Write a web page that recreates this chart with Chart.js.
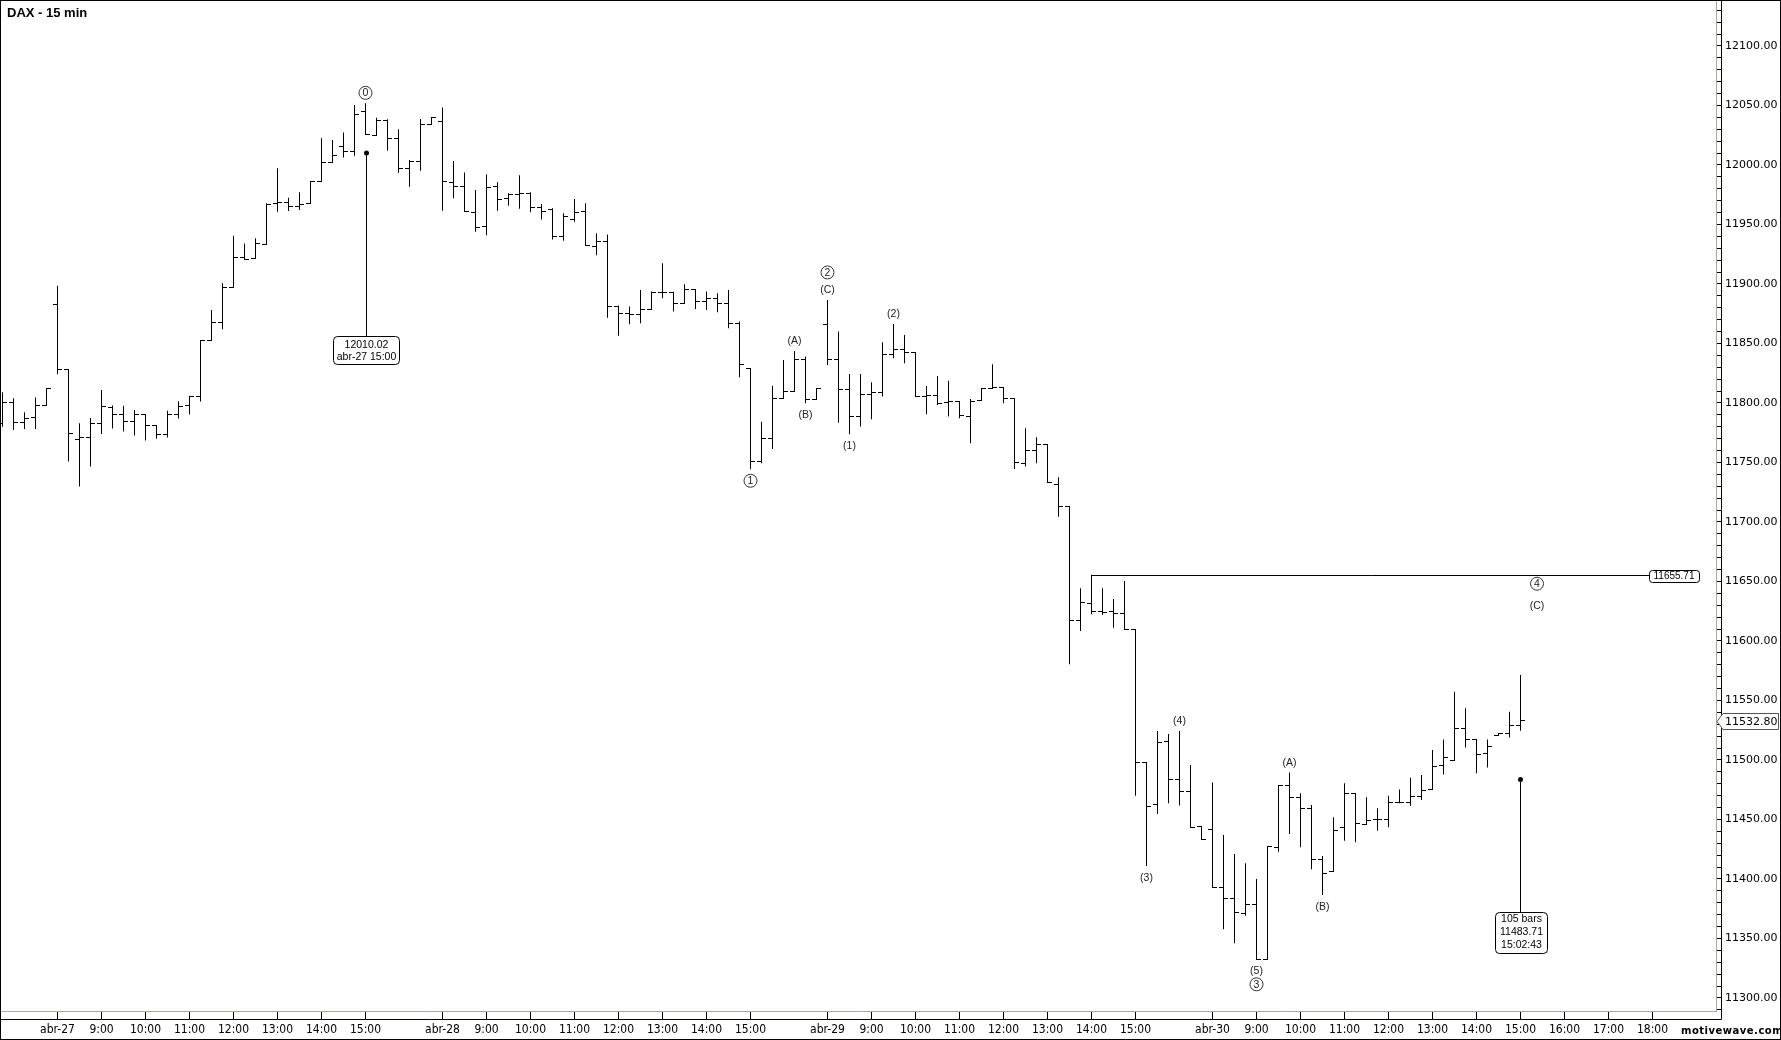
<!DOCTYPE html>
<html>
<head>
<meta charset="utf-8">
<title>DAX - 15 min</title>
<script src="https://cdn.jsdelivr.net/npm/chart.js@4.4.1/dist/chart.umd.min.js"></script>
<style>
    html, body { margin: 0; padding: 0; background: #fff; }
    #wrap { width: 1781px; height: 1040px; }
</style>
</head>
<body>
<div id="wrap"><canvas id="daxChart" width="1781" height="1040"></canvas></div>
<script>
// bar 0 = abr-27 8:00, 35 bars per session, 15 min each
const chartTitle = 'DAX - 15 min';
const firstBar = -5;
const barsPerDay = 35;

const opens = [
    11783, 11800.6, 11783.8, 11788, 11798.1,
    11882.4, 11827.8, 11769, 11771.3, 11783, 11796.4, 11790.6, 11784.7, 11790.6, 11780.8,
    11773.8, 11790.3, 11798, 11805.7, 11852.2, 11867.3, 11897.2, 11922.4, 11921.5, 11933.6,
    11967.8, 11968.6, 11965, 11967.8, 11986, 12002.2, 12015.4, 12011.7, 12044.8, 12025.2,
    12037.8, 12022.4, 11997.2, 12003.3, 12034.1, 12036.7, 11985.7, 11982, 11960.2, 11947.9,
    11982, 11972, 11974.8, 11976.2, 11964.4, 11962.2, 11940.3, 11954.3, 11961, 11931.9,
    11935.8, 11881.2, 11875.3, 11874, 11878.2, 11893, 11893, 11883.8, 11895, 11885.7,
    11888, 11883.8, 11867, 11829.2, 11750.7, 11769.8, 11804, 11809.6, 11836.2, 11803.1,
    11865.6, 11836.2, 11811.5, 11788.5, 11807.3, 11809, 11840.4, 11844.6, 11842.6, 11805.4,
    11806, 11800.3, 11801.2, 11788.6, 11801.7, 11812.4, 11813.2, 11803.4, 11748.8, 11759.7,
    11765.3, 11731.7, 11713, 11616.9, 11631.7, 11624.7, 11624.7, 11623.3, 11609.3, 11498,
    11463, 11515.5, 11483.2, 11473.4, 11444, 11441.2, 11393, 11383.2, 11370.6, 11378.2,
    11332.5, 11426.7, 11478.5, 11468.7, 11459.4, 11416, 11406.1, 11443.4, 11472, 11446.2,
    11449.6, 11450.1, 11464.4, 11464.4, 11469.2, 11475.3, 11495.5, 11499.4, 11526.6, 11517.6,
    11505.6, 11521, 11522.4, 11529.4
];
const highs = [
    11809, 11804, 11792.3, 11804.6, 11811.8,
    11898.6, 11828.6, 11783, 11787.5, 11811, 11797.8, 11797.6, 11794.2, 11790.6, 11781.5,
    11793.4, 11801.5, 11806, 11852.2, 11878.2, 11900.6, 11940.6, 11934.1, 11938.4, 11967.8,
    11997.2, 11972.5, 11977, 11986, 12022.4, 12021, 12027.4, 12050.4, 12051.8, 12039.7,
    12038.5, 12030, 12004.2, 12038.6, 12040, 12048.4, 12003.3, 11993.8, 11979, 11992.1,
    11985.4, 11976.2, 11991.3, 11977, 11967.2, 11963.6, 11959.4, 11971.4, 11967.8, 11942.6,
    11941.7, 11882, 11881, 11895, 11893.6, 11917.4, 11893.5, 11899.7, 11895.5, 11893.6,
    11892.2, 11895, 11868.4, 11829.2, 11784.3, 11814.6, 11836.2, 11843.7, 11839, 11812.4,
    11886.6, 11860, 11824.4, 11824.4, 11817.4, 11851, 11866.4, 11857.2, 11842.6, 11814.3,
    11822.7, 11818.8, 11801.2, 11803.4, 11812.4, 11832.5, 11813.2, 11803.4, 11778.8, 11771.2,
    11765.3, 11737.6, 11713, 11644.3, 11655.7, 11644.3, 11635.3, 11650.5, 11610, 11498,
    11524.4, 11521.9, 11524.4, 11495.8, 11444, 11481, 11437, 11421, 11413.2, 11400,
    11427.2, 11478.5, 11489.4, 11472, 11462.2, 11419.4, 11451.8, 11480.4, 11472, 11468.6,
    11459.4, 11470, 11475.3, 11485.1, 11487.4, 11508.4, 11517.3, 11557.4, 11543.4, 11517.6,
    11517.3, 11522.4, 11540.6, 11571.4
];
const lows = [
    11780, 11777.4, 11778.2, 11778.2, 11798.1,
    11824.2, 11750.8, 11729.8, 11746.6, 11774, 11778.5, 11776, 11772.6, 11768.4, 11770,
    11771, 11786.9, 11790.3, 11801.2, 11852, 11862, 11897, 11921, 11921.5, 11933.6,
    11960.8, 11961.3, 11962.2, 11967.8, 11986, 12002.2, 12006.4, 12007.8, 12026, 12025,
    12012, 11993.5, 11981.8, 11995.2, 12034, 11961.6, 11972, 11960.8, 11944, 11940.9,
    11961.6, 11965.8, 11963.3, 11960.2, 11954.3, 11937.5, 11936.4, 11952.4, 11931.9, 11924.1,
    11871.7, 11856.6, 11866.1, 11867, 11878.2, 11888, 11876.8, 11883.8, 11879, 11878.2,
    11876.2, 11862.8, 11821.6, 11744.3, 11749.3, 11761.4, 11804, 11809.6, 11799.8, 11803.1,
    11832, 11783.5, 11773.7, 11780.2, 11786.3, 11805.4, 11837.6, 11833.4, 11805.4, 11790.5,
    11798.4, 11788.6, 11787.2, 11766.2, 11801.7, 11812.4, 11799.8, 11744.6, 11746.6, 11749.4,
    11733.1, 11704.5, 11580.5, 11608.5, 11622.5, 11621.9, 11611.2, 11609.3, 11470, 11411,
    11454.7, 11463.6, 11461.7, 11443.4, 11433.4, 11393, 11357.8, 11346, 11369.2, 11332.5,
    11332.5, 11423, 11437.9, 11426.7, 11408.2, 11386.5, 11406, 11432.2, 11430.8, 11446,
    11440.6, 11443.4, 11463.6, 11461.6, 11466.4, 11475.3, 11487.9, 11499.4, 11510.6, 11488.8,
    11493.8, 11521, 11519, 11524.6
];
const closes = [
    11800.6, 11783.8, 11787.2, 11798.1, 11811.8,
    11827.8, 11774.6, 11771.3, 11783, 11797.3, 11790.6, 11784.7, 11790.6, 11780.8, 11773.8,
    11790.3, 11797.3, 11805.7, 11852.2, 11867.3, 11897.2, 11922.4, 11921, 11934.1, 11966.4,
    11968.6, 11965, 11967.2, 11986, 12002.2, 12007.8, 12011.7, 12042.5, 12026, 12037.8,
    12022.4, 11997.2, 12003.3, 12034.1, 12040, 11986.3, 11982, 11961, 11947.3, 11981.2,
    11971.4, 11974.8, 11976.2, 11964.4, 11961.3, 11940.3, 11956.6, 11960.2, 11932.5, 11935.8,
    11881.2, 11875.3, 11874, 11878.2, 11893, 11893, 11883.8, 11895, 11885.7, 11888,
    11883.8, 11867, 11832.5, 11750.7, 11769.8, 11804, 11809.6, 11836.2, 11803.1, 11812.4,
    11836.2, 11811.5, 11788.5, 11807.3, 11809, 11840.4, 11844.6, 11842.6, 11805.4, 11806,
    11799.8, 11801.2, 11789.1, 11801.2, 11812.4, 11813.2, 11803.4, 11749.9, 11759.7, 11765.3,
    11733.1, 11713, 11616.9, 11632.3, 11624.7, 11624.1, 11623.3, 11609.3, 11498, 11460.8,
    11514.9, 11483.8, 11473.4, 11443.4, 11433.4, 11393, 11383.2, 11372, 11378.2, 11332.5,
    11427.2, 11478.5, 11468.7, 11459.4, 11416, 11404.3, 11440.6, 11472, 11446.7, 11449,
    11450.1, 11464.4, 11464.4, 11469.2, 11474.2, 11494.9, 11502.2, 11526.6, 11517.6, 11504.7,
    11511.7, 11522.4, 11528.8, 11532.8
];

const dayLabels = ['abr-27', 'abr-28', 'abr-29', 'abr-30'];
const hourLabels = ['9:00', '10:00', '11:00', '12:00', '13:00', '14:00', '15:00', '16:00', '17:00', '18:00'];
const priceLabels = [11300, 11350, 11400, 11450, 11500, 11550, 11600, 11650, 11700,
    11750, 11800, 11850, 11900, 11950, 12000, 12050, 12100];

// elliott wave labels: bar, text, circled, above/below the bar, stack position
const waveLabels = [
    { bar: 28, text: '0', circled: true, side: 'high', stack: 0 },
    { bar: 63, text: '1', circled: true, side: 'low', stack: 0 },
    { bar: 67, text: '(A)', side: 'high', stack: 0 },
    { bar: 68, text: '(B)', side: 'low', stack: 0 },
    { bar: 70, text: '(C)', side: 'high', stack: 0 },
    { bar: 70, text: '2', circled: true, side: 'high', stack: 1 },
    { bar: 72, text: '(1)', side: 'low', stack: 0 },
    { bar: 76, text: '(2)', side: 'high', stack: 0 },
    { bar: 99, text: '(3)', side: 'low', stack: 0 },
    { bar: 102, text: '(4)', side: 'high', stack: 0 },
    { bar: 109, text: '(5)', side: 'low', stack: 0 },
    { bar: 109, text: '3', circled: true, side: 'low', stack: 1 },
    { bar: 112, text: '(A)', side: 'high', stack: 0 },
    { bar: 115, text: '(B)', side: 'low', stack: 0 }
];

// wave 4 target level
const targetBar = 94;
const targetPrice = 11655.71;
const targetLabelBar = 134.5;

// measure from the wave 0 marker
const markBar = 28;
const markPrice = 12010.02;
const markTime = 'abr-27 15:00';
const lastBar = 133;
const lastMarkPrice = 11483.71;
const lastMarkTime = '15:02:43';
const lastPrice = 11532.80;

// x ticks: day start plus each full hour
const timeTicks = [];
const timeText = {};
dayLabels.forEach((d, i) => {
    const base = i * barsPerDay;
    timeTicks.push(base);
    timeText[base] = d;
    const hours = i === dayLabels.length - 1 ? hourLabels.length : 7;
    for (let h = 0; h < hours; h++) {
        timeTicks.push(base + 4 * (h + 1));
        timeText[base + 4 * (h + 1)] = hourLabels[h];
    }
});
const priceTicks = [];
for (let p = 11290; p <= 12130; p += 10) priceTicks.push(p);

// open / close ticks as point images
function tickImage(left) {
    const c = document.createElement('canvas');
    c.width = 9;
    c.height = 1;
    const g = c.getContext('2d');
    g.fillStyle = '#000';
    g.fillRect(left ? 0 : 4, 0, 5, 1);
    return c;
}
const openTick = tickImage(true);
const closeTick = tickImage(false);

const barIdx = opens.map((o, i) => firstBar + i);

function roundBox(ctx, x, y, w, h, r) {
    ctx.beginPath();
    ctx.roundRect(x, y, w, h, r);
    ctx.fillStyle = '#fff';
    ctx.fill();
    ctx.stroke();
}

// keep the plot area fixed: no extra padding for edge labels
function noPadding(s) {
    s.paddingLeft = 0;
    s.paddingRight = 0;
    s.paddingTop = 0;
    s.paddingBottom = 0;
}

const overlay = {
    id: 'overlay',
    beforeDatasetsDraw(chart) { chart.ctx.imageSmoothingEnabled = false; },
    afterDatasetsDraw(chart) { chart.ctx.imageSmoothingEnabled = true; },
    afterDraw(chart) {
        const { ctx, chartArea: a } = chart;
        const x = chart.scales.x, y = chart.scales.y;
        ctx.save();
        ctx.strokeStyle = '#000';
        ctx.lineWidth = 1;

        // frame lines
        ctx.beginPath();
        ctx.moveTo(0, a.bottom + 8.5); ctx.lineTo(a.right + 5.5, a.bottom + 8.5);
        ctx.moveTo(a.right + 5.5, 0); ctx.lineTo(a.right + 5.5, a.bottom + 8.5);
        ctx.stroke();
        ctx.strokeRect(0.5, 0.5, chart.width - 1, chart.height - 1);

        // title
        ctx.fillStyle = '#000';
        ctx.font = 'bold 13px "Liberation Sans", Arial, sans-serif';
        ctx.textAlign = 'left';
        ctx.textBaseline = 'middle';
        ctx.fillText(chartTitle, 7, 13);

        // wave labels
        ctx.font = '10.5px "Liberation Sans", Arial, sans-serif';
        ctx.textAlign = 'center';
        ctx.strokeStyle = '#333';
        const drawWave = (px, py, text, circled) => {
            if (circled) {
                ctx.beginPath();
                ctx.arc(px, py, 6.5, 0, Math.PI * 2);
                ctx.stroke();
            }
            ctx.fillStyle = '#222';
            ctx.fillText(text, px, py + 0.5);
        };
        waveLabels.forEach(l => {
            const i = l.bar - firstBar;
            const px = x.getPixelForValue(l.bar);
            const py = l.side === 'high'
                ? y.getPixelForValue(highs[i]) - 10.5 - l.stack * 17
                : y.getPixelForValue(lows[i]) + 11.5 + l.stack * 13.5;
            drawWave(px, py, l.text, l.circled);
        });

        // wave 4 target line
        const ty = y.getPixelForValue(targetPrice);
        const tx = x.getPixelForValue(targetBar);
        ctx.strokeStyle = '#000';
        ctx.beginPath();
        ctx.moveTo(tx, Math.round(ty) + 0.5);
        ctx.lineTo(a.right - 67, Math.round(ty) + 0.5);
        ctx.stroke();
        roundBox(ctx, a.right - 67 + 0.5, Math.round(ty) - 4.5, 50, 12, 3);
        ctx.fillStyle = '#000';
        ctx.font = '10px "Liberation Sans", Arial, sans-serif';
        ctx.fillText(targetPrice.toFixed(2), a.right - 42, Math.round(ty) + 1.5);
        ctx.font = '10.5px "Liberation Sans", Arial, sans-serif';
        const t4x = x.getPixelForValue(targetLabelBar);
        ctx.strokeStyle = '#333';
        drawWave(t4x, ty + 9, '4', true);
        drawWave(t4x, ty + 31, '(C)', false);

        // measure markers
        ctx.strokeStyle = '#000';
        ctx.fillStyle = '#000';
        const mx = Math.round(x.getPixelForValue(markBar)) + 0.5;
        const my = y.getPixelForValue(markPrice);
        ctx.beginPath(); ctx.arc(mx, my, 2.5, 0, Math.PI * 2); ctx.fill();
        ctx.beginPath(); ctx.moveTo(mx, my); ctx.lineTo(mx, my + 183); ctx.stroke();
        roundBox(ctx, mx - 33, Math.round(my + 183) + 0.5, 66, 28, 4);
        ctx.fillStyle = '#000';
        ctx.fillText(markPrice.toFixed(2), mx, my + 192);
        ctx.fillText(markTime, mx, my + 204);

        const lx = Math.round(x.getPixelForValue(lastBar)) + 0.5;
        const ly = y.getPixelForValue(lastMarkPrice);
        ctx.beginPath(); ctx.arc(lx, ly, 2.5, 0, Math.PI * 2); ctx.fill();
        ctx.beginPath(); ctx.moveTo(lx, ly); ctx.lineTo(lx, ly + 133); ctx.stroke();
        roundBox(ctx, lx - 25, Math.round(ly + 133) + 0.5, 52, 41, 4);
        ctx.fillStyle = '#000';
        const info = [(lastBar - markBar) + ' bars', lastMarkPrice.toFixed(2), lastMarkTime];
        info.forEach((s, j) => ctx.fillText(s, lx + 1, ly + 140 + j * 13));

        // last price tag on the axis
        const py = Math.round(y.getPixelForValue(lastPrice)) + 0.5;
        const ax = a.right + 1;
        ctx.beginPath();
        ctx.moveTo(ax, py);
        ctx.lineTo(ax + 6, py - 8);
        ctx.lineTo(chart.width - 2.5, py - 8);
        ctx.lineTo(chart.width - 2.5, py + 8);
        ctx.lineTo(ax + 6, py + 8);
        ctx.closePath();
        ctx.fillStyle = '#fff';
        ctx.fill();
        ctx.strokeStyle = '#555';
        ctx.stroke();
        ctx.fillStyle = '#000';
        ctx.textAlign = 'left';
        ctx.font = '11px "DejaVu Sans", sans-serif';
        ctx.fillText(lastPrice.toFixed(2), a.right + 9, py + 0.5);

        // logo
        ctx.font = 'bold 10px "DejaVu Sans", sans-serif';
        ctx.letterSpacing = '0.5px';
        ctx.fillText('motivewave.com', chart.width - 100, a.bottom + 20);
        ctx.restore();
    }
};

const ctx = document.getElementById('daxChart').getContext('2d');
new Chart(ctx, {
    type: 'bar',
    data: {
        datasets: [{
            type: 'bar',
            label: 'Range',
            data: barIdx.map((k, i) => ({ x: k, y: [lows[i], highs[i]] })),
            backgroundColor: '#000',
            borderWidth: 0,
            barThickness: 1,
            inflateAmount: 0
        }, {
            type: 'line',
            label: 'Open',
            data: barIdx.map((k, i) => ({ x: k, y: opens[i] })),
            showLine: false,
            pointStyle: openTick,
            pointRadius: 3
        }, {
            type: 'line',
            label: 'Close',
            data: barIdx.map((k, i) => ({ x: k, y: closes[i] })),
            showLine: false,
            pointStyle: closeTick,
            pointRadius: 3
        }]
    },
    options: {
        responsive: false,
        animation: false,
        devicePixelRatio: 1,
        events: [],
        layout: { padding: 0, autoPadding: false },
        plugins: { legend: { display: false }, tooltip: { enabled: false } },
        scales: {
            x: {
                type: 'linear',
                min: -57.5 / 11,
                max: -57.5 / 11 + 156,
                offset: false,
                grid: { drawOnChartArea: false, drawTicks: true, tickLength: 8, tickColor: '#000', offset: false },
                border: { display: true, color: '#a9a9a0' },
                afterBuildTicks: s => { s.ticks = timeTicks.map(v => ({ value: v })); },
                afterFit: s => { s.height = 29; noPadding(s); },
                ticks: {
                    autoSkip: false,
                    maxRotation: 0,
                    padding: 4,
                    color: '#000',
                    font: { family: '"DejaVu Sans Condensed", "Liberation Sans Narrow", "Liberation Sans", sans-serif', size: 12 },
                    callback: v => timeText[v] || ''
                }
            },
            y: {
                type: 'linear',
                position: 'right',
                min: 12100 - 965 / 1.19,
                max: 12100 + 46 / 1.19,
                grid: { drawOnChartArea: false, tickLength: 5, tickColor: '#000' },
                border: { display: true, color: '#a9a9a0' },
                afterBuildTicks: s => { s.ticks = priceTicks.map(v => ({ value: v })); },
                afterFit: s => { s.width = 65; noPadding(s); },
                ticks: {
                    autoSkip: false,
                    padding: 4,
                    color: '#000',
                    font: { family: '"DejaVu Sans", sans-serif', size: 11 },
                    callback: v => priceLabels.includes(v) ? v.toFixed(2) : ''
                }
            }
        }
    },
    plugins: [overlay]
});
</script>
</body>
</html>
